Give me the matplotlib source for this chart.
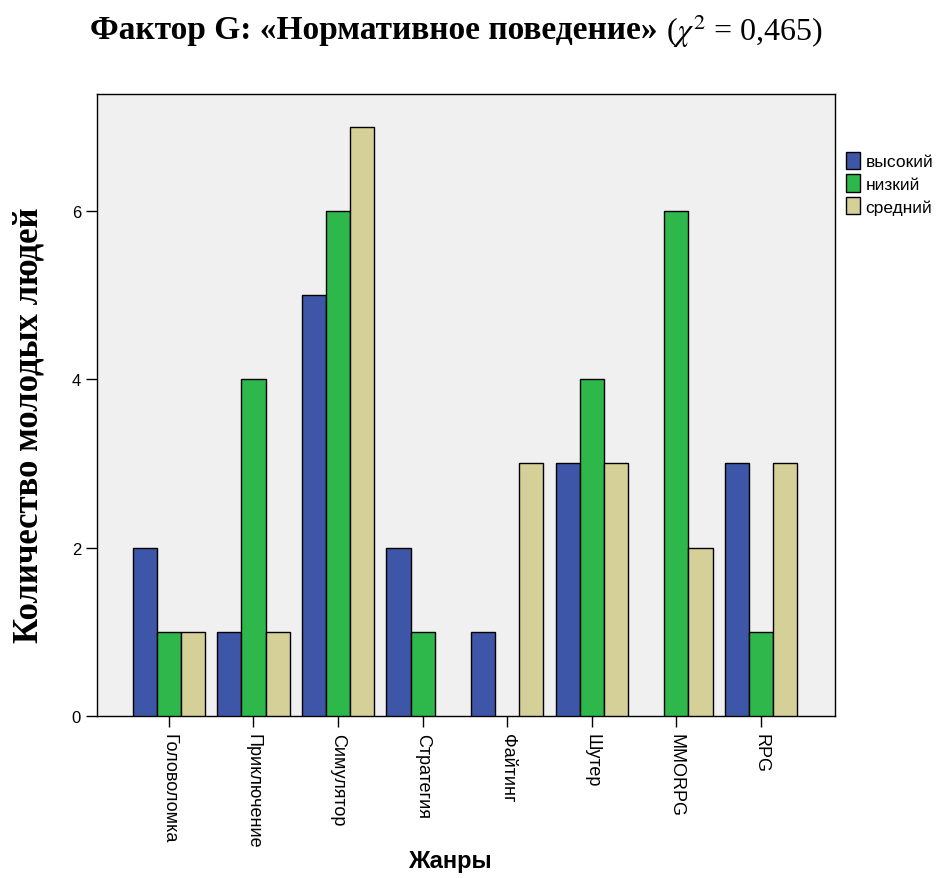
import matplotlib
matplotlib.use("Agg")
import matplotlib.pyplot as plt
import numpy as np
from matplotlib.patches import Patch

categories = ["Головоломка", "Приключение", "Симулятор", "Стратегия", "Файтинг", "Шутер", "MMORPG", "RPG"]
series_names = ["высокий", "низкий", "средний"]
vysokiy = [2, 1, 5, 2, 1, 3, 0, 3]
nizkiy = [1, 4, 6, 1, 0, 4, 6, 1]
sredniy = [1, 1, 7, 0, 3, 3, 2, 3]
yticks = [0, 2, 4, 6]
colors = ["#3D56A8", "#2EB74A", "#D5D098"]

fig = plt.figure(figsize=(9.4, 8.79), dpi=100)
ax = fig.add_axes([97/940, 1-717/879, (835-97)/940, (717-95)/879])
ax.set_facecolor("#F0F0F0")

x = np.arange(len(categories))
w = 0.285
for i, (vals, c) in enumerate(zip([vysokiy, nizkiy, sredniy], colors)):
    vals = np.array(vals, dtype=float)
    mask = vals > 0
    ax.bar(x[mask] + (i - 1) * w, vals[mask], width=w, color=c, edgecolor="black", linewidth=1.0, zorder=3)

ax.set_xlim(-0.85, 7.875)
ax.set_ylim(0, 7.39)
ax.set_yticks(yticks)
ax.set_yticklabels([str(t) for t in yticks], fontsize=12, family="Liberation Sans")
ax.set_xticks(x)
ax.set_xticklabels(categories, rotation=270, fontsize=13, family="Liberation Sans", va="top", ha="center")
ax.tick_params(axis="both", direction="out", length=8, width=1, color="black")
ax.tick_params(axis="x", pad=4)
for s in ax.spines.values():
    s.set_linewidth(1.0)
    s.set_color("black")

fig.text(450/940, 1-862/879, "Жанры", ha="center", va="center",
         fontsize=17, fontweight="bold", family="Liberation Sans")
fig.text(29/940, 1-425/879, "Количество молодых людей", rotation=90, ha="center", va="center",
         fontsize=25, fontweight="bold", family="Liberation Serif")

handles = [Patch(facecolor=c, edgecolor="black", linewidth=1.0) for c in colors]
fig.legend(handles, series_names, loc="upper left", bbox_to_anchor=(830/940, 1-137/879), frameon=False,
           handlelength=0.85, handleheight=1.15, handletextpad=0.3, labelspacing=0.3,
           prop={"family": "Liberation Sans", "size": 12.5})

t1 = fig.text(90/940, 1-31/879, "Фактор G: «Нормативное поведение»", ha="left", va="center",
              fontsize=24, fontweight="bold", family="Liberation Serif")
fig.canvas.draw()
bb = t1.get_window_extent(fig.canvas.get_renderer())
fig.text(bb.x1/940 + 8/940, 1-31/879, r"($\chi^2$ = 0,465)", ha="left", va="center",
         fontsize=23, family="Liberation Serif", math_fontfamily="stix")

fig.savefig("out.png", dpi=100)
